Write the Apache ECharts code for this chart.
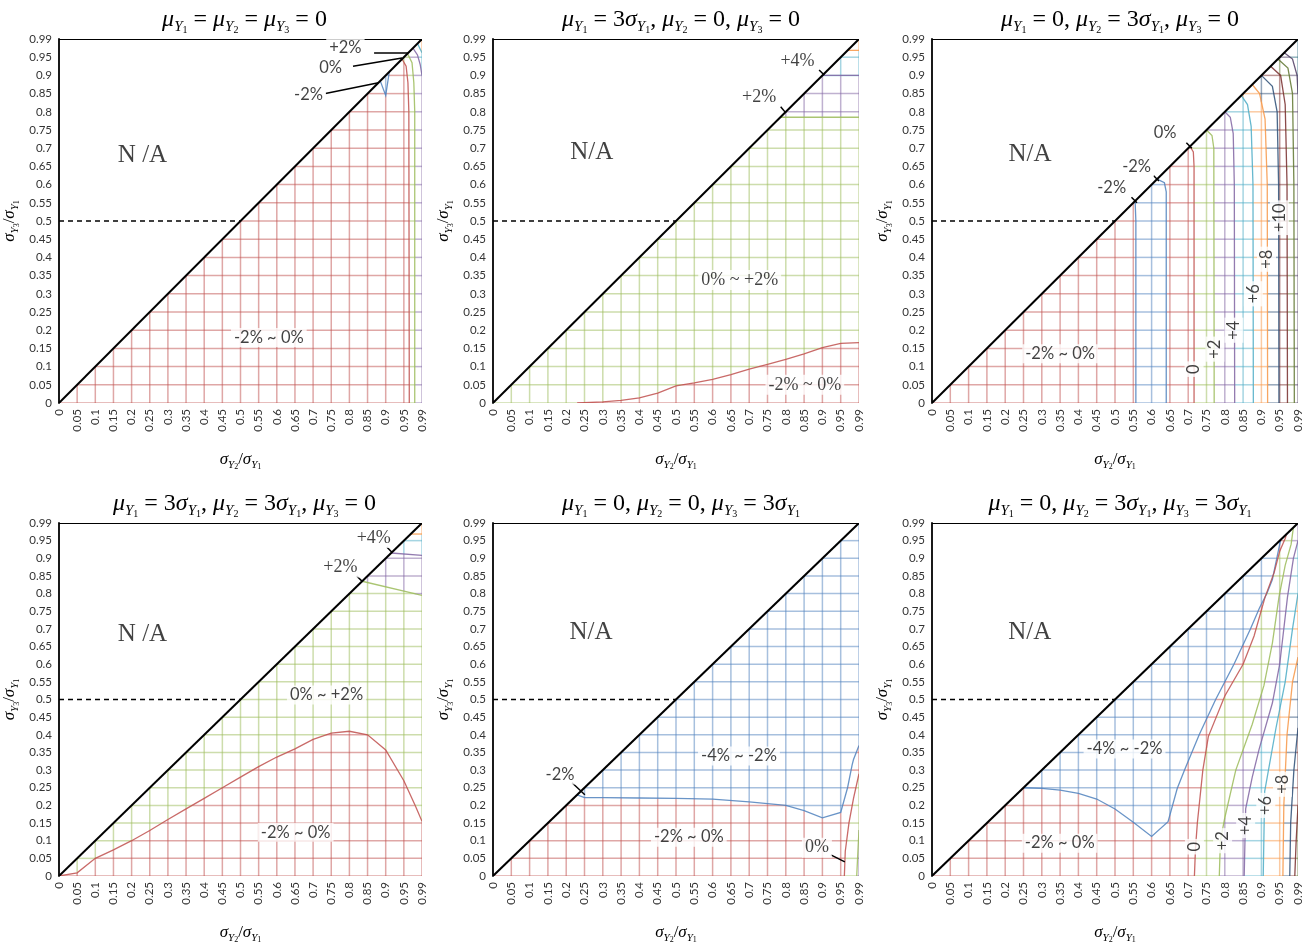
<!DOCTYPE html>
<html>
<head>
<meta charset="utf-8">
<script src="https://cdn.jsdelivr.net/npm/echarts@6/dist/echarts.min.js"></script>
<style>
  html, body { margin: 0; padding: 0; background: #fff; }
  #chart { width: 1311px; height: 945px; }
</style>
</head>
<body>
<div id="chart"></div>
<script>
  // tick labels shared by both axes of every panel
  var TICKS = ['0', '0.05', '0.1', '0.15', '0.2', '0.25', '0.3', '0.35', '0.4', '0.45', '0.5',
    '0.55', '0.6', '0.65', '0.7', '0.75', '0.8', '0.85', '0.9', '0.95', '0.99'];

  // band colours, keyed by lower bound of band (%)
  var BAND_COLORS = {
    '-4': '#4F81BD', '-2': '#C0504D', '0': '#9BBB59', '2': '#8064A2', '4': '#4BACC6',
    '6': '#F79646', '8': '#2C4D75', '10': '#772C2A', '12': '#5F7530', '14': '#4D3B62',
    '16': '#276A7C', '18': '#B65708'
  };

  var OUT = 1.03, BEL = -0.05; // points just outside the plot, to close polygons

  var TITLES = [
    'μ1 = μ2 = μ3 = 0',
    'μ1 = 3σ1, μ2 = 0, μ3 = 0',
    'μ1 = 0, μ2 = 3σ1, μ3 = 0',
    'μ1 = 3σ1, μ2 = 3σ1, μ3 = 0',
    'μ1 = 0, μ2 = 0, μ3 = 3σ1',
    'μ1 = 0, μ2 = 3σ1, μ3 = 3σ1'
  ];

  // ---- panel 1 ----
  var p1Base = -2;
  var p1Regions = [
    { band: -4, level: -2, line: [[0.885, 0.885], [0.9, 0.845], [0.91, 0.91]], close: [] },
    { band: 0, level: 0, line: [[0.945, 0.945], [0.955, 0.925], [0.959, 0.88], [0.961, 0.8], [0.962, 0]], close: [[0.962, BEL], [OUT, BEL], [OUT, OUT]] },
    { band: 2, level: 2, line: [[0.958, 0.958], [0.968, 0.935], [0.972, 0.88], [0.974, 0.8], [0.974, 0]], close: [[0.974, BEL], [OUT, BEL], [OUT, OUT]] },
    { band: 4, level: 4, line: [[0.97, 0.97], [0.98, 0.955], [0.986, 0.93], [0.99, 0.9]], close: [[OUT, 0.9], [OUT, OUT]] },
    { band: 6, level: 6, line: [[0.98, 0.98], [0.99, 0.96]], close: [[OUT, 0.96], [OUT, OUT]] }
  ];
  var p1Notes = [
    { t: 'N /A', x: 0.23, y: 0.68, f: 'na' },
    { t: '-2% ~ 0%', x: 0.578, y: 0.18 },
    { t: '+2%', x: 0.789, y: 0.97 },
    { t: '0%', x: 0.748, y: 0.92 },
    { t: '-2%', x: 0.6875, y: 0.846 }
  ];
  var p1Leaders = [[[0.868, 0.959], [0.959, 0.959]], [[0.81, 0.925], [0.945, 0.948]], [[0.734, 0.85], [0.88, 0.88]]];

  // ---- panel 2 ----
  var p2Base = 0;
  var p2Regions = [
    { band: -2, level: 0, line: [[0.23, 0], [0.3, 0.003], [0.35, 0.007], [0.4, 0.014], [0.45, 0.027], [0.5, 0.047], [0.55, 0.055], [0.6, 0.065], [0.65, 0.078], [0.7, 0.093], [0.75, 0.106], [0.8, 0.12], [0.85, 0.135], [0.9, 0.152], [0.95, 0.164], [0.99, 0.166]], close: [[OUT, 0.166], [OUT, BEL], [0.23, BEL]] },
    { band: 2, level: 2, line: [[0.785, 0.785], [0.99, 0.785]], close: [[OUT, 0.785], [OUT, OUT]] },
    { band: 4, level: 4, line: [[0.9, 0.9], [0.99, 0.9]], close: [[OUT, 0.9], [OUT, OUT]] },
    { band: 6, level: 8, line: [[0.965, 0.965], [0.99, 0.965]], close: [[OUT, 0.965], [OUT, OUT]] }
  ];
  var p2Notes = [
    { t: 'N/A', x: 0.27, y: 0.687, f: 'na' },
    { t: '0% ~ +2%', x: 0.674, y: 0.338, f: 'serif' },
    { t: '-2% ~ 0%', x: 0.852, y: 0.05, f: 'serif' },
    { t: '+4%', x: 0.832, y: 0.94, f: 'serif' },
    { t: '+2%', x: 0.727, y: 0.84, f: 'serif' }
  ];
  var p2Leaders = [[[0.891, 0.915], [0.905, 0.901]], [[0.786, 0.814], [0.8, 0.797]]];

  // ---- panel 3 ----
  var p3Base = -2;
  var p3Regions = [
    { band: -4, level: -2, line: [[0.555, 0.555], [0.557, 0.5], [0.557, 0]], close: [[0.557, BEL], [OUT, BEL], [OUT, OUT]] },
    { band: -2, level: -2, line: [[0.615, 0.615], [0.635, 0.605], [0.64, 0.58], [0.64, 0]], close: [[0.64, BEL], [OUT, BEL], [OUT, OUT]] },
    { band: 0, level: 0, line: [[0.705, 0.705], [0.714, 0.69], [0.716, 0.65], [0.716, 0]], close: [[0.716, BEL], [OUT, BEL], [OUT, OUT]] },
    { band: 2, level: 2, line: [[0.75, 0.75], [0.765, 0.735], [0.77, 0.7], [0.771, 0]], close: [[0.771, BEL], [OUT, BEL], [OUT, OUT]] },
    { band: 4, level: 4, line: [[0.8, 0.8], [0.815, 0.785], [0.823, 0.74], [0.826, 0.6], [0.827, 0]], close: [[0.827, BEL], [OUT, BEL], [OUT, OUT]] },
    { band: 6, level: 6, line: [[0.845, 0.845], [0.862, 0.82], [0.872, 0.76], [0.877, 0.6], [0.878, 0]], close: [[0.878, BEL], [OUT, BEL], [OUT, OUT]] },
    { band: 8, level: 8, line: [[0.875, 0.875], [0.895, 0.85], [0.91, 0.78], [0.916, 0.6], [0.917, 0]], close: [[0.917, BEL], [OUT, BEL], [OUT, OUT]] },
    { band: 10, level: 10, line: [[0.9, 0.9], [0.93, 0.87], [0.943, 0.8], [0.947, 0.6], [0.948, 0]], close: [[0.948, BEL], [OUT, BEL], [OUT, OUT]] },
    { band: 12, level: 12, line: [[0.925, 0.925], [0.952, 0.9], [0.962, 0.82], [0.966, 0.6], [0.967, 0]], close: [[0.967, BEL], [OUT, BEL], [OUT, OUT]] },
    { band: 14, level: 14, line: [[0.945, 0.945], [0.968, 0.92], [0.978, 0.85], [0.981, 0.6], [0.982, 0]], close: [[0.982, BEL], [OUT, BEL], [OUT, OUT]] },
    { band: 16, level: 16, line: [[0.96, 0.96], [0.978, 0.945], [0.988, 0.9], [0.99, 0.85]], close: [[OUT, 0.85], [OUT, OUT]] }
  ];
  var p3Notes = [
    { t: 'N/A', x: 0.268, y: 0.684, f: 'na' },
    { t: '-2% ~ 0%', x: 0.35, y: 0.135 },
    { t: '0%', x: 0.637, y: 0.743 },
    { t: '-2%', x: 0.559, y: 0.648 },
    { t: '-2%', x: 0.491, y: 0.592 },
    { t: '0', x: 0.716, y: 0.093, r: 90 },
    { t: '+2', x: 0.773, y: 0.148, r: 90 },
    { t: '+4', x: 0.825, y: 0.2, r: 90 },
    { t: '+6', x: 0.878, y: 0.3, r: 90 },
    { t: '+8', x: 0.914, y: 0.395, r: 90 },
    { t: '+10', x: 0.949, y: 0.509, r: 90 }
  ];
  var p3Leaders = [[[0.695, 0.715], [0.71, 0.70]], [[0.605, 0.625], [0.62, 0.61]], [[0.545, 0.565], [0.56, 0.55]]];

  // ---- panel 4 ----
  var p4Base = 0;
  var p4Regions = [
    { band: -2, level: 0, line: [[0, 0], [0.05, 0.009], [0.1, 0.05], [0.15, 0.074], [0.2, 0.1], [0.25, 0.129], [0.3, 0.16], [0.35, 0.19], [0.4, 0.22], [0.45, 0.25], [0.5, 0.28], [0.55, 0.31], [0.6, 0.337], [0.65, 0.36], [0.7, 0.387], [0.75, 0.405], [0.8, 0.41], [0.85, 0.4], [0.9, 0.357], [0.95, 0.27], [0.975, 0.2], [0.99, 0.155]], close: [[OUT, 0.155], [OUT, BEL], [BEL, BEL]] },
    { band: 2, level: 2, line: [[0.835, 0.835], [0.99, 0.795]], close: [[OUT, 0.79], [OUT, OUT]] },
    { band: 4, level: 4, line: [[0.915, 0.915], [0.99, 0.908]], close: [[OUT, 0.908], [OUT, OUT]] },
    { band: 6, level: 8, line: [[0.965, 0.965], [0.99, 0.965]], close: [[OUT, 0.965], [OUT, OUT]] }
  ];
  var p4Notes = [
    { t: 'N /A', x: 0.23, y: 0.684, f: 'na' },
    { t: '0% ~ +2%', x: 0.737, y: 0.513 },
    { t: '-2% ~ 0%', x: 0.652, y: 0.124 },
    { t: '+4%', x: 0.867, y: 0.956, f: 'serif' },
    { t: '+2%', x: 0.775, y: 0.874, f: 'serif' }
  ];
  var p4Leaders = [[[0.903, 0.932], [0.917, 0.917]], [[0.82, 0.85], [0.836, 0.834]]];

  // ---- panel 5 ----
  var p5Base = -4;
  var p5Regions = [
    { band: -2, level: -2, line: [[0.23, 0.23], [0.25, 0.222], [0.3, 0.222], [0.4, 0.221], [0.5, 0.22], [0.6, 0.218], [0.7, 0.21], [0.8, 0.2], [0.85, 0.185], [0.9, 0.165], [0.95, 0.18], [0.965, 0.25], [0.975, 0.315], [0.978, 0.33], [0.99, 0.37]], close: [[OUT, 0.37], [OUT, BEL], [BEL, BEL]] },
    { band: 0, level: 0, line: [[0.958, 0], [0.96, 0.07], [0.968, 0.15], [0.978, 0.22], [0.99, 0.29]], close: [[OUT, 0.29], [OUT, BEL], [0.958, BEL]] },
    { band: 2, level: 2, line: [[0.985, 0], [0.988, 0.08], [0.99, 0.13]], close: [[OUT, 0.13], [OUT, BEL], [0.985, BEL]] }
  ];
  var p5Notes = [
    { t: 'N/A', x: 0.268, y: 0.69, f: 'na' },
    { t: '-4% ~ -2%', x: 0.672, y: 0.34 },
    { t: '-2% ~ 0%', x: 0.535, y: 0.11 },
    { t: '-2%', x: 0.183, y: 0.286 },
    { t: '0%', x: 0.885, y: 0.08, f: 'serif' }
  ];
  var p5Leaders = [[[0.216, 0.264], [0.251, 0.23]], [[0.923, 0.06], [0.959, 0.04]]];

  // ---- panel 6 ----
  var p6Base = -2;
  var p6Regions = [
    { band: -4, level: -2, line: [[0.25, 0.25], [0.3, 0.248], [0.35, 0.243], [0.4, 0.234], [0.45, 0.218], [0.5, 0.19], [0.55, 0.152], [0.6, 0.112], [0.645, 0.154], [0.67, 0.248], [0.69, 0.3], [0.73, 0.4], [0.775, 0.5], [0.825, 0.6], [0.87, 0.7], [0.895, 0.76], [0.915, 0.8], [0.93, 0.84], [0.942, 0.9], [0.952, 0.952]], close: [] },
    { band: 0, level: 0, line: [[0.717, 0], [0.72, 0.08], [0.725, 0.15], [0.74, 0.3], [0.755, 0.395], [0.8, 0.51], [0.85, 0.6], [0.88, 0.68], [0.91, 0.79], [0.935, 0.86], [0.95, 0.92], [0.962, 0.955], [0.965, 0.965]], close: [[OUT, OUT], [OUT, BEL], [0.717, BEL]] },
    { band: 2, level: 2, line: [[0.785, 0], [0.788, 0.1], [0.8, 0.165], [0.83, 0.3], [0.875, 0.43], [0.907, 0.54], [0.93, 0.66], [0.948, 0.79], [0.962, 0.88], [0.975, 0.94], [0.98, 0.98]], close: [[OUT, OUT], [OUT, BEL], [0.785, BEL]] },
    { band: 4, level: 4, line: [[0.853, 0], [0.857, 0.19], [0.875, 0.28], [0.894, 0.36], [0.93, 0.49], [0.95, 0.6], [0.967, 0.79], [0.98, 0.9], [0.99, 0.95]], close: [[OUT, 0.95], [OUT, BEL], [0.853, BEL]] },
    { band: 6, level: 6, line: [[0.905, 0], [0.909, 0.24], [0.94, 0.42], [0.962, 0.55], [0.978, 0.7], [0.99, 0.8]], close: [[OUT, 0.8], [OUT, BEL], [0.905, BEL]] },
    { band: 8, level: 8, line: [[0.957, 0], [0.959, 0.2], [0.966, 0.4], [0.978, 0.55], [0.99, 0.62]], close: [[OUT, 0.62], [OUT, BEL], [0.957, BEL]] },
    { band: 10, level: 10, line: [[0.972, 0], [0.974, 0.15], [0.981, 0.3], [0.99, 0.42]], close: [[OUT, 0.42], [OUT, BEL], [0.972, BEL]] },
    { band: 12, level: 12, line: [[0.983, 0], [0.986, 0.1], [0.99, 0.2]], close: [[OUT, 0.2], [OUT, BEL], [0.983, BEL]] }
  ];
  var p6Notes = [
    { t: 'N/A', x: 0.267, y: 0.69, f: 'na' },
    { t: '-4% ~ -2%', x: 0.526, y: 0.36 },
    { t: '-2% ~ 0%', x: 0.349, y: 0.093 },
    { t: '0', x: 0.717, y: 0.083, r: 90 },
    { t: '+2', x: 0.794, y: 0.1, r: 90 },
    { t: '+4', x: 0.857, y: 0.143, r: 90 },
    { t: '+6', x: 0.912, y: 0.2, r: 90 },
    { t: '+8', x: 0.956, y: 0.26, r: 90 }
  ];
  var p6Leaders = [];

  var panels = [
    { base: p1Base, regions: p1Regions, notes: p1Notes, leaders: p1Leaders },
    { base: p2Base, regions: p2Regions, notes: p2Notes, leaders: p2Leaders },
    { base: p3Base, regions: p3Regions, notes: p3Notes, leaders: p3Leaders },
    { base: p4Base, regions: p4Regions, notes: p4Notes, leaders: p4Leaders },
    { base: p5Base, regions: p5Regions, notes: p5Notes, leaders: p5Leaders },
    { base: p6Base, regions: p6Regions, notes: p6Notes, leaders: p6Leaders }
  ];

  // value (sigma ratio) -> axis position (ticks are evenly spaced, last step is 0.04)
  function idx(v) {
    return v <= 0.95 ? v / 0.05 : 19 + (v - 0.95) / 0.04;
  }
  function toPt(p) { return [idx(p[0]), idx(p[1])]; }

  function inside(poly, x, y) {
    var c = false;
    for (var i = 0, j = poly.length - 1; i < poly.length; j = i++) {
      var xi = poly[i][0], yi = poly[i][1], xj = poly[j][0], yj = poly[j][1];
      if ((yi > y) !== (yj > y) && x < (xj - xi) * (y - yi) / (yj - yi) + xi) c = !c;
    }
    return c;
  }

  // wireframe of the lower triangle, each piece coloured by the band it lies in
  function buildGrid(base, regions) {
    var polys = regions.map(function(r) { return r.line.concat(r.close).map(toPt); });
    function bandAt(x, y) {
      var b = base;
      for (var k = 0; k < polys.length; k++) {
        if (inside(polys[k], x, y)) b = regions[k].band;
      }
      return b;
    }
    var items = [];
    function push(a, b, band) {
      items.push({ coords: [a, b], lineStyle: { color: BAND_COLORS[band], width: 1.5, opacity: 0.5 } });
    }
    function run(x0, y0, x1, y1) {
      var len = Math.max(Math.abs(x1 - x0), Math.abs(y1 - y0));
      var n = Math.round(len * 20);
      if (n < 1) return;
      var cur = null, start = [x0, y0];
      for (var s = 0; s < n; s++) {
        var tm = (s + 0.5) / n, t0 = s / n;
        var b = bandAt(x0 + (x1 - x0) * tm, y0 + (y1 - y0) * tm);
        if (cur === null) cur = b;
        else if (b !== cur) {
          var p = [x0 + (x1 - x0) * t0, y0 + (y1 - y0) * t0];
          push(start, p, cur);
          start = p; cur = b;
        }
      }
      push(start, [x1, y1], cur);
    }
    for (var i = 1; i <= 20; i++) run(i, 0, i, i);
    for (var j = 0; j < 20; j++) run(j, j, 20, j);
    return items;
  }

  function richText(str) {
    var out = '', re = /([μσ])(\d)/g, last = 0, m;
    while ((m = re.exec(str))) {
      if (m.index > last) out += '{n|' + str.slice(last, m.index) + '}';
      out += '{m|' + m[1] + '}{s|Y}{t|' + m[2] + '}';
      last = re.lastIndex;
    }
    if (last < str.length) out += '{n|' + str.slice(last) + '}';
    return out;
  }

  var SERIF = 'Liberation Serif';
  var SANS = 'Lato';
  function richSet(big, sub, sub2, lh) {
    return {
      n: { fontFamily: SERIF, fontWeight: 'normal', fontSize: big, color: '#000', lineHeight: lh, verticalAlign: 'middle' },
      m: { fontFamily: SERIF, fontWeight: 'normal', fontStyle: 'italic', fontSize: big, color: '#000', lineHeight: lh, verticalAlign: 'middle' },
      s: { fontFamily: SERIF, fontWeight: 'normal', fontStyle: 'italic', fontSize: sub, color: '#000', lineHeight: sub, verticalAlign: 'bottom' },
      t: { fontFamily: SERIF, fontWeight: 'normal', fontSize: sub2, color: '#000', lineHeight: sub2 - 1, verticalAlign: 'bottom' }
    };
  }
  var titleRich = richSet(24, 15, 10, 31);
  var nameRich = richSet(17, 11, 8, 23);

  var lefts = [57, 493, 932];
  var widths = [365, 366, 366];
  var tops = [39, 523];
  var H = 364;

  var grids = [], xAxes = [], yAxes = [], titles = [], series = [];

  panels.forEach(function(p, k) {
    var col = k % 3, row = Math.floor(k / 3);
    grids.push({ left: lefts[col], top: tops[row], width: widths[col], height: H });
    titles.push({
      text: richText(TITLES[k]),
      left: lefts[col] + widths[col] / 2,
      top: tops[row] - 40,
      textAlign: 'center',
      textStyle: { fontWeight: 'normal', rich: titleRich }
    });
    xAxes.push({
      type: 'value', gridIndex: k, min: 0, max: 20, interval: 1,
      splitLine: { show: false }, axisTick: { show: false }, axisLine: { show: false },
      axisLabel: {
        rotate: 90, fontSize: 11.5, color: '#333', fontFamily: SANS, margin: 6,
        formatter: function(v) { return TICKS[Math.round(v)]; }
      },
      name: richText('σ2/σ1'), nameLocation: 'middle', nameGap: 45,
      nameTextStyle: { rich: nameRich }
    });
    yAxes.push({
      type: 'value', gridIndex: k, min: 0, max: 20, interval: 1,
      splitLine: { show: false }, axisTick: { show: false },
      axisLine: { show: true, lineStyle: { color: '#000', width: 1.8 } },
      axisLabel: {
        fontSize: 11.5, color: '#333', fontFamily: SANS, margin: 7,
        formatter: function(v) { return TICKS[Math.round(v)]; }
      },
      name: richText('σ3/σ1'), nameLocation: 'middle', nameGap: 38,
      nameTextStyle: { rich: nameRich }
    });

    var common = { coordinateSystem: 'cartesian2d', xAxisIndex: k, yAxisIndex: k, silent: true, animation: false };

    series.push(Object.assign({ type: 'lines', polyline: true, z: 1, data: buildGrid(p.base, p.regions) }, common));
    series.push(Object.assign({
      type: 'lines', polyline: true, z: 2,
      data: p.regions.map(function(r) {
        return { coords: r.line.map(toPt), lineStyle: { color: BAND_COLORS[r.level - 2], width: 1.3, opacity: 0.85 } };
      })
    }, common));
    var frame = [
      { coords: [[0, 0], [20, 20]], lineStyle: { color: '#000', width: 2, opacity: 1 } },
      { coords: [[0, 20], [20, 20]], lineStyle: { color: '#000', width: 1.8, opacity: 1 } },
      { coords: [[0, 10], [10, 10]], lineStyle: { color: '#000', width: 1.3, type: [5, 4], opacity: 1 } }
    ];
    p.leaders.forEach(function(l) {
      frame.push({ coords: l.map(toPt), lineStyle: { color: '#000', width: 1.5, opacity: 1 } });
    });
    series.push(Object.assign({ type: 'lines', polyline: true, z: 3, data: frame }, common));

    series.push(Object.assign({
      type: 'scatter', symbolSize: 0, z: 5,
      data: p.notes.map(function(n) {
        var isNA = n.f === 'na';
        return {
          value: [idx(n.x), idx(n.y)],
          label: {
            show: true, position: 'inside', formatter: n.t,
            rotate: n.r || 0,
            fontFamily: (isNA || n.f === 'serif') ? SERIF : SANS,
            fontSize: isNA ? 25 : (n.f === 'serif' ? 18 : 16.5),
            color: '#111',
            backgroundColor: isNA ? 'transparent' : '#fff',
            padding: isNA ? 0 : [1, 3]
          }
        };
      })
    }, common));
  });

  var chart = echarts.init(document.getElementById('chart'));
  chart.setOption({
    animation: false,
    backgroundColor: '#fff',
    title: titles,
    grid: grids,
    xAxis: xAxes,
    yAxis: yAxes,
    series: series
  });
</script>
</body>
</html>
